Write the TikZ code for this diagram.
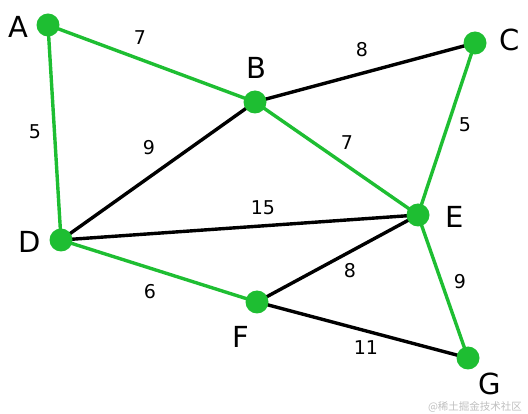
\documentclass[tikz,border=0pt]{standalone}
\usepackage{fontspec}
\setmainfont{DejaVu Sans}
\newfontfamily\cjk{Noto Sans CJK SC}
\definecolor{mstgreen}{RGB}{30,190,50}
\tikzset{
  vtx/.style={circle,fill=mstgreen,draw=none,minimum size=23pt,inner sep=0pt},
  vlabel/.style={font=\fontsize{29}{29}\selectfont,text=black,inner sep=0pt},
  wlabel/.style={font=\fontsize{19}{19}\selectfont,text=black,inner sep=0pt},
  tree/.style={draw=mstgreen,line width=3.4pt},
  other/.style={draw=black,line width=3.4pt},
}
\begin{document}
\begin{tikzpicture}[x=1pt,y=-1pt]
\useasboundingbox (0,0) rectangle (528,414);
\coordinate (A) at (48,25);
\coordinate (B) at (255,102);
\coordinate (C) at (475,43);
\coordinate (D) at (61,240);
\coordinate (E) at (418,215);
\coordinate (F) at (257,302);
\coordinate (G) at (468,358);
% edges
\draw[tree] (A) -- (B);
\draw[tree] (A) -- (D);
\draw[other] (B) -- (C);
\draw[other] (D) -- (B);
\draw[tree] (B) -- (E);
\draw[tree] (C) -- (E);
\draw[other] (D) -- (E);
\draw[tree] (D) -- (F);
\draw[other] (F) -- (E);
\draw[tree] (E) -- (G);
\draw[other] (F) -- (G);
% vertices
\foreach \v in {A,B,C,D,E,F,G} \node[vtx] (n\v) at (\v) {};
% vertex labels
\node[vlabel] (lA) at (18,27) {A};
\node[vlabel] (lB) at (256,68) {B};
\node[vlabel] (lC) at (510,40) {C};
\node[vlabel] (lD) at (30,242) {D};
\node[vlabel] (lE) at (455,217) {E};
\node[vlabel] (lF) at (241,337) {F};
\node[vlabel] (lG) at (490,384) {G};
% weights
\node[wlabel] (wAB) at (140,38) {7};
\node[wlabel] (wBC) at (362,50) {8};
\node[wlabel] (wAD) at (35,132) {5};
\node[wlabel] (wDB) at (149,148) {9};
\node[wlabel] (wBE) at (347,143) {7};
\node[wlabel] (wCE) at (465,125) {5};
\node[wlabel] (wDE) at (263,208) {15};
\node[wlabel] (wFE) at (350,271) {8};
\node[wlabel] (wDF) at (150,292) {6};
\node[wlabel] (wEG) at (460,282) {9};
\node[wlabel] (wFG) at (366,348) {11};
% watermark
\node[font=\cjk\fontsize{10.5}{10.5}\selectfont,text=black!25,inner sep=0pt] (wm) at (475,407) {@稀土掘金技术社区};
\end{tikzpicture}
\end{document}
